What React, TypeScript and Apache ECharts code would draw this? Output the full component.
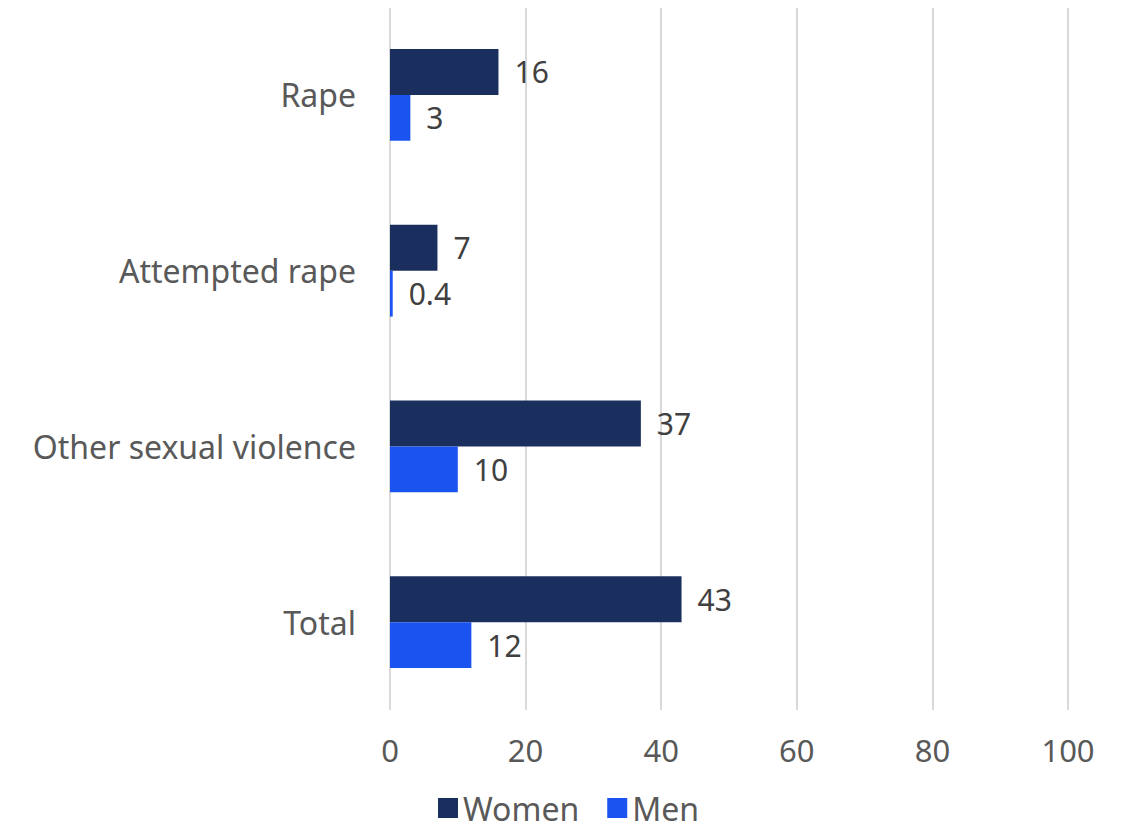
import React, { useEffect, useRef } from "react";
import * as echarts from "echarts";

const categories = ["Rape", "Attempted rape", "Other sexual violence", "Total"];
const women = [16, 7, 37, 43];
const men = [3, 0.4, 10, 12];
const xTicks = [0, 20, 40, 60, 80, 100];

const FONT = "'Noto Sans', sans-serif";

export default function App() {
  const ref = useRef<HTMLDivElement>(null);
  useEffect(() => {
    if (!ref.current) return;
    const chart = echarts.init(ref.current, undefined, { renderer: "svg" });
    const label = {
      show: true,
      position: "right",
      distance: 16,
      color: "#404040",
      fontSize: 30,
      fontFamily: FONT,
    };
    chart.setOption({
      animation: false,
      textStyle: { fontFamily: FONT },
      grid: { left: 390, right: 57, top: 7, bottom: 119, containLabel: false },
      legend: {
        bottom: 0,
        left: 433,
        itemWidth: 20,
        itemHeight: 20,
        itemGap: 28,
        icon: "rect",
        textStyle: { fontSize: 32, color: "#595959", fontFamily: FONT },
        data: ["Women", "Men"],
      },
      xAxis: {
        type: "value",
        min: xTicks[0],
        max: xTicks[xTicks.length - 1],
        interval: 20,
        axisLine: { show: false },
        axisTick: { show: false },
        splitLine: { lineStyle: { color: "#d9d9d9", width: 2 } },
        axisLabel: { fontSize: 31, color: "#595959", margin: 24, fontFamily: FONT },
      },
      yAxis: {
        type: "category",
        data: categories,
        inverse: true,
        axisLine: { show: false },
        axisTick: { show: false },
        axisLabel: { fontSize: 32, color: "#595959", margin: 34, fontFamily: FONT },
      },
      series: [
        {
          name: "Women",
          type: "bar",
          data: women,
          barGap: "0%",
          barCategoryGap: "47.7%",
          itemStyle: { color: "#1B2F5E" },
          label,
        },
        {
          name: "Men",
          type: "bar",
          data: men,
          barGap: "0%",
          barCategoryGap: "47.7%",
          itemStyle: { color: "#1A53F0" },
          label,
        },
      ],
    });
    return () => chart.dispose();
  }, []);
  return <div ref={ref} style={{ width: 1125, height: 829, margin: -8 }} />;
}
